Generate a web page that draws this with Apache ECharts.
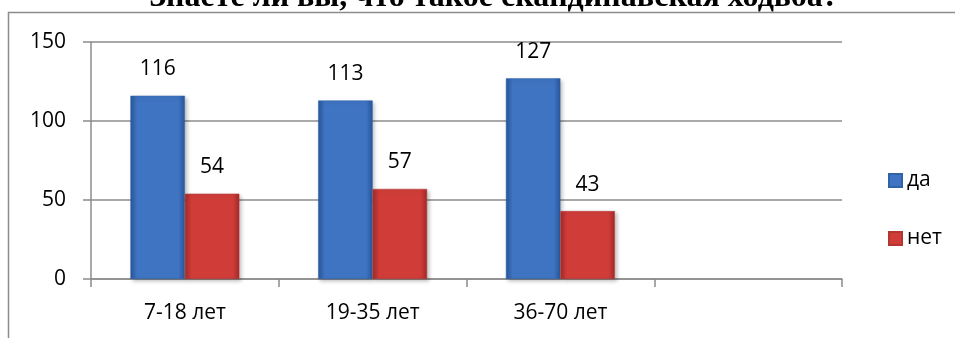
<!DOCTYPE html>
<html><head><meta charset="utf-8">
<script src="https://cdn.jsdelivr.net/npm/echarts@6/dist/echarts.min.js"></script>
<style>html,body{margin:0;padding:0;background:#fff}#c{width:955px;height:338px}</style>
</head><body><div id="c"></div>
<script>
const titleText = 'Знаете ли вы, что такое скандинавская ходьба?';
const categories = ['7-18 лет', '19-35 лет', '36-70 лет', ''];
const seriesNames = ['да', 'нет'];
const yesValues = [116, 113, 127, null];
const noValues = [54, 57, 43, null];
const yTicks = [0, 50, 100, 150];

const chart = echarts.init(document.getElementById('c'));
function grad(dark, light) {
  return new echarts.graphic.LinearGradient(0, 0, 1, 0, [
    {offset: 0, color: dark}, {offset: 0.12, color: light}, {offset: 0.88, color: light}, {offset: 1, color: dark}
  ]);
}
const font = 'Open Sans, Noto Sans, sans-serif';
const fs = 21;
chart.setOption({
  animation: false,
  title: {text: titleText, left: 494, textAlign: 'center', top: -18, padding: 0,
    textStyle: {fontFamily: 'Liberation Serif, serif', fontWeight: 'bold', fontSize: 32, color: '#000'}},
  graphic: [{type: 'rect', shape: {x: 8.5, y: 12.5, width: 1000, height: 400}, style: {fill: 'none', stroke: '#8c8c8c', lineWidth: 1.5}, silent: true}],
  legend: {orient: 'vertical', left: 883, top: 165, itemGap: 37, itemWidth: 13, itemHeight: 13, icon: 'rect',
    textStyle: {fontFamily: font, fontSize: fs, color: '#000'}, data: seriesNames},
  grid: {left: 91, right: 113, top: 42, bottom: 59},
  xAxis: {type: 'category', data: categories,
    axisLine: {lineStyle: {color: '#8c8c8c', width: 1.5}},
    axisTick: {show: true, length: 8, lineStyle: {color: '#8c8c8c', width: 1.5}},
    axisLabel: {fontFamily: font, fontSize: fs, color: '#000', margin: 24}},
  yAxis: {type: 'value', min: 0, max: 150, interval: 50,
    axisLine: {show: true, lineStyle: {color: '#8c8c8c', width: 1.5}},
    axisTick: {show: true, length: 8, lineStyle: {color: '#8c8c8c', width: 1.5}},
    splitLine: {lineStyle: {color: '#8c8c8c', width: 1.5}},
    axisLabel: {fontFamily: font, fontSize: fs, color: '#000', margin: 25,
      formatter: v => yTicks.includes(v) ? String(v) : ''}},
  series: [
    {name: seriesNames[0], type: 'bar', data: yesValues, barGap: '0%', barCategoryGap: '42%',
     itemStyle: {color: grad('#28569a', '#3f74c2'), borderColor: '#2f62a8', borderWidth: 0.5, shadowColor: 'rgba(0,0,0,0.25)', shadowBlur: 4, shadowOffsetX: 2, shadowOffsetY: 2},
     label: {show: true, position: 'top', distance: 16, fontFamily: font, fontSize: fs, color: '#000'}},
    {name: seriesNames[1], type: 'bar', data: noValues,
     itemStyle: {color: grad('#a32a27', '#d03d39'), borderColor: '#b33632', borderWidth: 0.5, shadowColor: 'rgba(0,0,0,0.25)', shadowBlur: 4, shadowOffsetX: 2, shadowOffsetY: 2},
     label: {show: true, position: 'top', distance: 16, fontFamily: font, fontSize: fs, color: '#000'}}
  ]
});
</script></body></html>
